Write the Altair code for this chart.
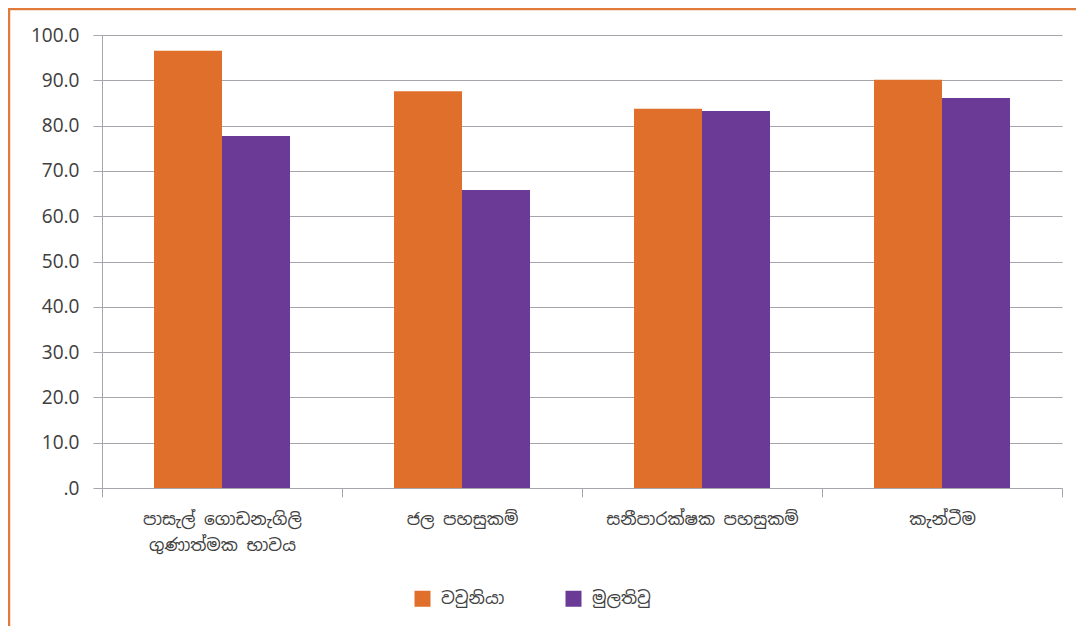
import altair as alt
import pandas as pd

categories = [
    "පාසැල් ගොඩනැගිලි|ගුණාත්මක භාවය",
    "ජල පහසුකම්",
    "සනීපාරක්ෂක පහසුකම්",
    "කැන්ටීම",
]
districts = ["වවුනියා", "මුලතිවු"]
vavuniya = [96.5, 87.6, 83.7, 90.1]
mullaitivu = [77.7, 65.8, 83.2, 86.1]
y_ticks = [0, 10, 20, 30, 40, 50, 60, 70, 80, 90, 100]

ORANGE = "#DF6F2A"
PURPLE = "#6A3A96"
GRID = "#A6A6AD"
TEXT = "#404040"
FONT = "Noto Sans Sinhala, Noto Sans, sans-serif"

rows = []
for c, v in zip(categories, vavuniya):
    rows.append({"category": c, "district": districts[0], "value": v})
for c, v in zip(categories, mullaitivu):
    rows.append({"category": c, "district": districts[1], "value": v})
df = pd.DataFrame(rows)

bars = alt.Chart(df).mark_bar().encode(
    x=alt.X(
        "category:N",
        sort=categories,
        scale=alt.Scale(paddingInner=0, paddingOuter=0),
        axis=alt.Axis(
            title=None,
            labelAngle=0,
            labelExpr="split(datum.label, '|')",
            labelLimit=400,
            tickBand="extent",
            tickSize=9,
            tickColor=GRID,
            domainColor=GRID,
            labelColor=TEXT,
            labelFontSize=17,
            labelFont=FONT,
            labelPadding=14,
            labelLineHeight=26,
            grid=False,
        ),
    ),
    xOffset=alt.XOffset(
        "district:N",
        sort=districts,
        scale=alt.Scale(paddingInner=0, paddingOuter=0.765),
    ),
    y=alt.Y(
        "value:Q",
        scale=alt.Scale(domain=[0, 100], nice=False),
        axis=alt.Axis(
            title=None,
            values=y_ticks,
            labelExpr="datum.value == 0 ? '.0' : format(datum.value, '.1f')",
            tickSize=9,
            tickColor=GRID,
            domainColor=GRID,
            gridColor=GRID,
            labelColor=TEXT,
            labelFontSize=19,
            labelFont=FONT,
            labelPadding=14,
        ),
    ),
    color=alt.Color(
        "district:N",
        sort=districts,
        scale=alt.Scale(domain=districts, range=[ORANGE, PURPLE]),
        legend=alt.Legend(
            title=None,
            orient="none",
            legendX=312,
            legendY=555,
            direction="horizontal",
            symbolType="square",
            symbolSize=256,
            symbolStrokeWidth=0,
            labelFontSize=17,
            labelFont=FONT,
            labelColor=TEXT,
            labelOffset=10,
            columnPadding=60,
        ),
    ),
)

frame_df = pd.DataFrame({"k": [0]})
frame_left = alt.Chart(frame_df).mark_rule(color="#E07B3C", strokeWidth=2.5).encode(
    x=alt.value(-93), y=alt.value(-27), y2=alt.value(600)
)
frame_top = alt.Chart(frame_df).mark_rule(color="#E07B3C", strokeWidth=2.5).encode(
    x=alt.value(-94), x2=alt.value(1000), y=alt.value(-26)
)

chart = alt.layer(bars, frame_left, frame_top).properties(
    width=960,
    height=453,
    padding={"left": 94, "top": 27, "right": 14, "bottom": 138},
    autosize=alt.AutoSizeParams(type="none"),
).configure_view(stroke=None)

chart.save("out.html", embed_options={"renderer": "svg", "actions": False})
